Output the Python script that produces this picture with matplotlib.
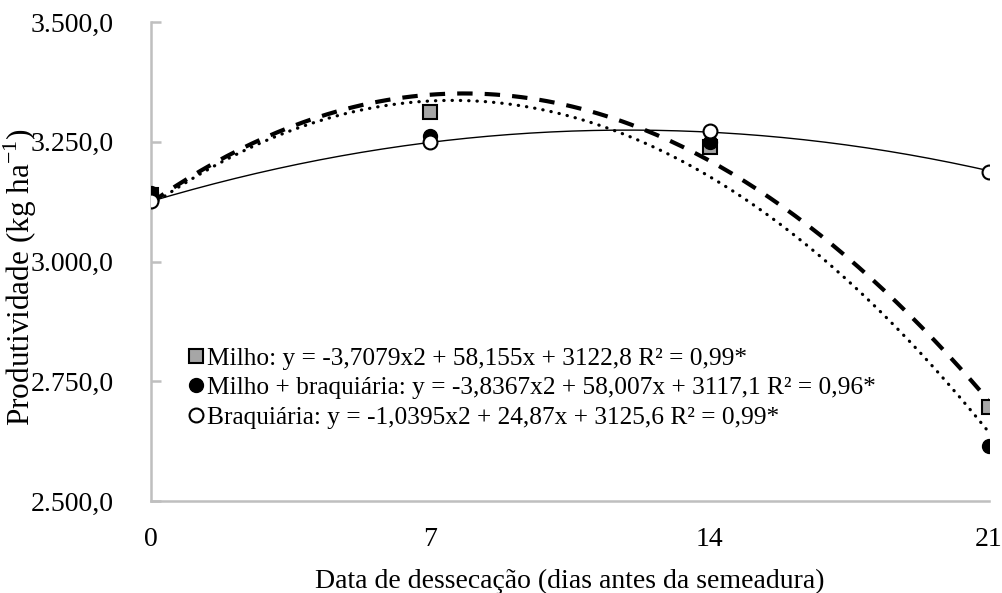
import numpy as np
import matplotlib.pyplot as plt
from matplotlib.ticker import FuncFormatter
from matplotlib.lines import Line2D

plt.rcParams['font.family'] = ['Liberation Serif', 'DejaVu Serif']

dias = [0, 7, 14, 21]
milho = [3138, 3312, 3240, 2696]
milho_braq = [3142, 3262, 3250, 2615]
braq = [3127, 3250, 3272, 3187]

# coeficientes das regressoes (a, b, c) -> y = a*x2 + b*x + c
coef_milho = (-3.7079, 58.155, 3122.8)
coef_mb = (-3.8367, 58.007, 3117.1)
coef_braq = (-1.0395, 24.87, 3125.6)

rotulos = ['Milho: y = -3,7079x2 + 58,155x + 3122,8 R² = 0,99*',
           'Milho + braquiária: y = -3,8367x2 + 58,007x + 3117,1 R² = 0,96*',
           'Braquiária: y = -1,0395x2 + 24,87x + 3125,6 R² = 0,99*']

fig = plt.figure(figsize=(10.02, 5.93), dpi=100)
ax = fig.add_axes([0.1507, 0.1551, 0.8363, 0.8078])

xs = np.linspace(0, 21, 200)
def curva(c):
    return c[0] * xs**2 + c[1] * xs + c[2]

ax.plot(xs, curva(coef_milho), color='black', lw=3.0, linestyle=(0, (3.7, 2.9)))
ax.plot(xs, curva(coef_mb), color='black', lw=2.3, linestyle=(0, (0.1, 2.5)),
        dash_capstyle='round')
ax.plot(xs, curva(coef_braq), color='black', lw=1.0)

ax.plot(dias, milho, 's', ms=10, mfc='#a6a6a6', mec='black', mew=1.5, ls='none', zorder=3)
ax.plot(dias, milho_braq, 'o', ms=10, mfc='black', mec='black', ls='none', zorder=4)
ax.plot(dias, braq, 'o', ms=10, mfc='white', mec='black', mew=1.5, ls='none', zorder=5)

ax.set_xlim(0, 21)
ax.set_ylim(2500, 3500)
ax.set_xticks(dias)
ax.set_yticks([2500, 2750, 3000, 3250, 3500])
ax.yaxis.set_major_formatter(FuncFormatter(
    lambda v, p: '{:,.1f}'.format(v).replace(',', 'X').replace('.', ',').replace('X', '.')))

for s in ['top', 'right']:
    ax.spines[s].set_visible(False)
for s in ['left', 'bottom']:
    ax.spines[s].set_color('#bfbfbf')
    ax.spines[s].set_linewidth(1.8)
ax.spines['left'].set_zorder(0)

ax.tick_params(axis='y', direction='in', length=7, width=1.8, color='#bfbfbf',
               labelsize=20, pad=27)
ax.tick_params(axis='x', length=0, labelsize=20, pad=19)
ax.set_xticks([21], minor=True)
ax.tick_params(axis='x', which='minor', direction='in', length=7, width=1.8, color='#bfbfbf')

ax.set_xlabel('Data de dessecação (dias antes da semeadura)', fontsize=20, labelpad=12)
ax.set_ylabel('Produtividade (kg ha$^{\\mathregular{-1}}$)', fontsize=22.5)
ax.yaxis.set_label_coords(-0.134, 0.468)

handles = [Line2D([], [], marker='s', ms=10, mfc='#a6a6a6', mec='black', mew=1.5, ls='none'),
           Line2D([], [], marker='o', ms=10, mfc='black', mec='black', ls='none'),
           Line2D([], [], marker='o', ms=10, mfc='white', mec='black', mew=1.5, ls='none')]
ax.legend(handles, rotulos, loc='lower left', bbox_to_anchor=(0.03, 0.124),
          frameon=False, fontsize=18.3, handlelength=0.6, handletextpad=0.1,
          labelspacing=0.27, borderpad=0)

fig.savefig('out.png', dpi=100)
